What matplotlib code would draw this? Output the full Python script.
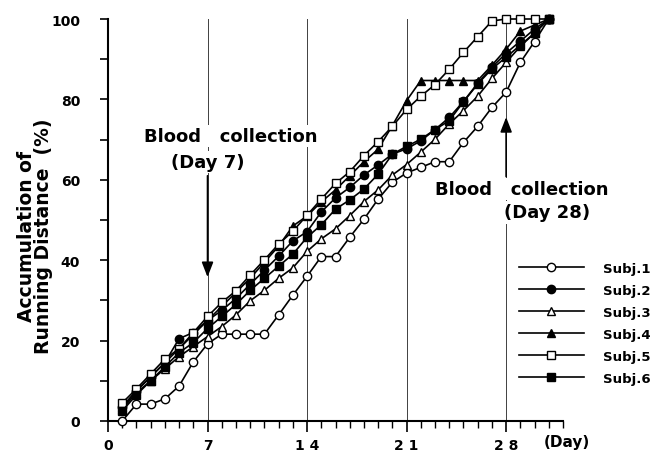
import matplotlib
matplotlib.use("Agg")
import matplotlib.pyplot as plt

# cumulative running distance (%), days 1..31
days = list(range(1, 32))
subj1 = [0, 4.2, 4.2, 5.5, 8.7, 14.7, 19.2, 21.6, 21.6, 21.6, 21.6, 26.4, 31.3, 36.0, 40.9, 40.9,
         45.7, 50.2, 55.2, 59.4, 61.7, 63.1, 64.5, 64.5, 69.3, 73.3, 78.0, 81.8, 89.2, 94.4, 100]
subj2 = [3.5, 7.5, 11.0, 14.5, 20.5, 22.0, 25.0, 27.5, 30.5, 34.0, 37.5, 41.0, 44.8, 47.1, 52.0, 55.5,
         58.1, 61.2, 63.7, 66.4, 67.7, 69.7, 72.5, 75.5, 79.5, 84.0, 88.0, 91.5, 94.5, 97.5, 100]
subj3 = [3.0, 7.0, 10.0, 13.0, 16.0, 18.5, 21.0, 23.5, 26.4, 29.9, 32.5, 35.5, 38.1, 42.2, 45.3, 47.8,
         51.1, 54.6, 57.5, 61.2, 63.8, 66.9, 70.1, 73.9, 77.2, 80.8, 85.2, 89.2, 93.2, 96.5, 100]
subj4 = [3.5, 7.5, 11.0, 14.5, 18.0, 21.5, 25.0, 28.5, 32.0, 35.5, 39.5, 43.5, 48.5, 51.0, 54.5, 57.5,
         61.0, 64.5, 67.6, 73.5, 79.7, 84.7, 84.7, 84.7, 84.7, 84.7, 88.5, 92.5, 97.0, 98.5, 100]
subj5 = [4.5, 8.0, 11.7, 15.4, 18.0, 22.0, 26.0, 29.5, 32.4, 36.3, 40.1, 44.0, 47.2, 51.2, 55.2, 59.1,
         62.0, 66.0, 69.5, 73.3, 77.5, 80.8, 83.7, 87.5, 91.7, 95.6, 99.5, 100, 100, 100, 100]
subj6 = [2.5, 6.5, 10.0, 13.5, 17.0, 19.5, 23.0, 26.0, 29.0, 32.5, 35.5, 38.5, 41.5, 45.7, 48.8, 52.7,
         55.0, 57.7, 61.4, 66.4, 68.3, 70.1, 72.5, 74.7, 79.4, 83.8, 87.6, 90.5, 93.5, 96.5, 100]

series = [subj1, subj2, subj3, subj4, subj5, subj6]
labels = ["Subj.1", "Subj.2", "Subj.3", "Subj.4", "Subj.5", "Subj.6"]
markers = ["o", "o", "^", "^", "s", "s"]
fills = ["white", "black", "white", "black", "white", "black"]

major_days = [0, 7, 14, 21, 28]
major_day_labels = ["0", "7", "1 4", "2 1", "2 8"]
collection_days = [7, 28]

plt.rcParams['font.family'] = ['DejaVu Sans']
plt.rcParams['font.weight'] = 'bold'

W, H = 653, 456
fig = plt.figure(figsize=(W / 100, H / 100), dpi=100)
ax = fig.add_axes([108 / W, 34 / H, (563 - 108) / W, (422 - 20) / H])

for d in major_days[1:]:
    ax.axvline(d, color="0.25", lw=0.7, zorder=1)

handles = []
for vals, lab, m, fc in zip(series, labels, markers, fills):
    ms = 5.5 if m == "^" else 6.0
    ln, = ax.plot(days, vals, color="black", lw=1.2, marker=m, ms=ms, mfc=fc,
                  mec="black", mew=1.0, label=lab, clip_on=False, zorder=4)
    handles.append(ln)

ax.set_xlim(0, 32)
ax.set_ylim(0, 100)
for s in ["top", "right"]:
    ax.spines[s].set_visible(False)
for s in ["left", "bottom"]:
    ax.spines[s].set_linewidth(1.5)

ax.set_xticks(major_days)
ax.set_xticklabels(major_day_labels)
ax.set_xticks(range(0, 33), minor=True)
ax.set_yticks(range(0, 101, 20))
ax.set_yticks(range(10, 100, 20), minor=True)
ax.tick_params(axis="x", which="major", length=8, width=1.2, pad=4, labelsize=10)
ax.tick_params(axis="x", which="minor", length=5, width=1.0)
ax.tick_params(axis="y", which="both", length=6, width=1.2, labelsize=10)
ax.yaxis.set_tick_params(which="major", pad=14)

# annotations
tb = dict(facecolor="white", edgecolor="none", pad=1.5)
fs = 13
ax.text(8.66, 70.9, "Blood   collection", ha="center", va="center", fontsize=fs,
        bbox=tb, zorder=3)
ax.text(7, 64.4, "(Day 7)", ha="center", va="center", fontsize=fs, bbox=tb, zorder=3)
ax.text(29.1, 57.7, "Blood   collection", ha="center", va="center", fontsize=fs,
        bbox=tb, zorder=3)
ax.text(30.9, 51.9, "(Day 28)", ha="center", va="center", fontsize=fs, bbox=tb, zorder=3)

arrow = dict(arrowstyle="-|>,head_length=0.9,head_width=0.35", color="black", lw=1.2,
             shrinkA=0, shrinkB=0)
ax.annotate("", xy=(collection_days[0], 35.8), xytext=(collection_days[0], 61.0),
            arrowprops=arrow, zorder=5)
ax.annotate("", xy=(collection_days[1], 75.6), xytext=(collection_days[1], 60.8),
            arrowprops=arrow, zorder=5)

fig.text(567 / W, 1 - 443 / H, "(Day)", ha="center", va="center", fontsize=11)
fig.text(35 / W, 1 - 236 / H, "Accumulation of\nRunning Distance  (%)", rotation=90,
         ha="center", va="center", fontsize=13.5, linespacing=0.85,
         multialignment="center")

ax.legend(handles, labels, loc="upper left", bbox_to_anchor=(519 / W, 1 - 263 / H),
          bbox_transform=fig.transFigure, frameon=False, handlelength=4.9,
          handletextpad=1.45, labelspacing=0.68, borderpad=0, borderaxespad=0,
          numpoints=1, prop={"weight": "bold", "size": 9.5})

fig.savefig("out.png", dpi=100)
